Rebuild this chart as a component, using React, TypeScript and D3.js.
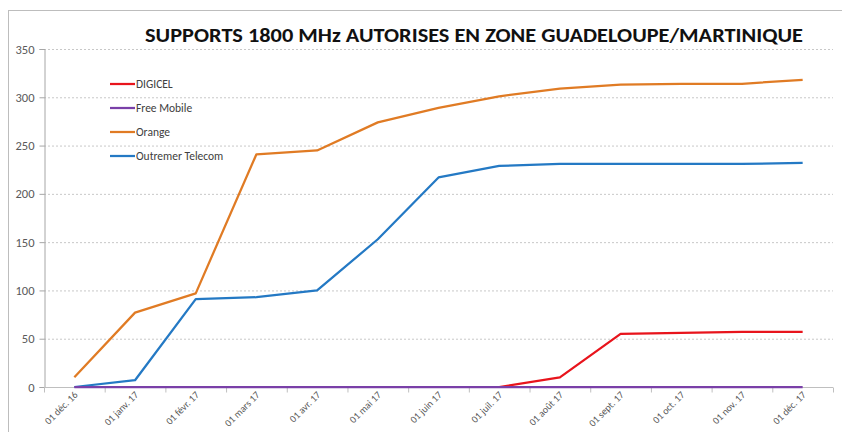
import { useEffect, useRef } from 'react';
import * as d3 from 'd3';

const months = [
  '01 déc. 16', '01 janv. 17', '01 févr. 17', '01 mars 17', '01 avr. 17', '01 mai 17',
  '01 juin 17', '01 juil. 17', '01 août 17', '01 sept. 17', '01 oct. 17', '01 nov. 17', '01 déc. 17',
];

const digicel = [null, null, null, null, null, null, null, 0, 10, 55, 56, 57, 57];
const freeMobile = [0, 0, 0, 0, 0, 0, 0, 0, 0, 0, 0, 0, 0];
const orange = [10, 77, 97, 241, 245, 274, 289, 301, 309, 313, 314, 314, 318];
const outremer = [0, 7, 91, 93, 100, 153, 217, 229, 231, 231, 231, 231, 232];

const yTicks = [0, 50, 100, 150, 200, 250, 300, 350];

const series = [
  { name: 'DIGICEL', values: digicel, color: '#e8141c' },
  { name: 'Free Mobile', values: freeMobile, color: '#7a40a8' },
  { name: 'Orange', values: orange, color: '#e07b24' },
  { name: 'Outremer Telecom', values: outremer, color: '#2479c4' },
];

export default function App() {
  const svgRef = useRef<SVGSVGElement>(null);

  useEffect(() => {
    if (!svgRef.current) return;
    const svg = d3.select(svgRef.current);
    svg.selectAll('*').remove();

    const width = 842;
    const height = 432;
    const margin = { top: 49, right: 9, bottom: 45, left: 44 };
    const font = 'Calibri, Carlito, Lato, sans-serif';

    // frame
    svg
      .append('rect')
      .attr('x', 8.5)
      .attr('y', 10.5)
      .attr('width', 900)
      .attr('height', 500)
      .attr('fill', 'white')
      .attr('stroke', '#bdbdbd');

    const x = d3
      .scaleBand()
      .domain(months)
      .range([margin.left, width - margin.right])
      .padding(0);

    const y = d3
      .scaleLinear()
      .domain([0, 350])
      .range([height - margin.bottom, margin.top]);

    // gridlines
    svg
      .append('g')
      .selectAll('line')
      .data(yTicks.filter((d) => d > 0))
      .enter()
      .append('line')
      .attr('x1', margin.left)
      .attr('x2', width - margin.right)
      .attr('y1', (d) => y(d) + 0.5)
      .attr('y2', (d) => y(d) + 0.5)
      .attr('stroke', '#c8c8c8')
      .attr('stroke-dasharray', '2,2');

    // y axis
    const yAxis = svg
      .append('g')
      .attr('transform', `translate(${margin.left + 0.5},0)`)
      .call(d3.axisLeft(y).tickValues(yTicks).tickSize(5).tickPadding(5));
    yAxis.select('.domain').attr('stroke', '#a6a6a6');
    yAxis.selectAll('line').attr('stroke', '#a6a6a6');
    yAxis
      .selectAll('text')
      .style('fill', '#595959')
      .style('font-family', font)
      .style('font-size', '12.5px');

    // x axis (ticks between categories)
    const x0 = height - margin.bottom + 0.5;
    const xg = svg.append('g');
    xg.append('line')
      .attr('x1', margin.left)
      .attr('x2', width - margin.right)
      .attr('y1', x0)
      .attr('y2', x0)
      .attr('stroke', '#bfbfbf');
    xg.selectAll('line.tick')
      .data(months.concat(['end']))
      .enter()
      .append('line')
      .attr('class', 'tick')
      .attr('x1', (d, i) => margin.left + i * x.step() + 0.5)
      .attr('x2', (d, i) => margin.left + i * x.step() + 0.5)
      .attr('y1', x0)
      .attr('y2', x0 + 5)
      .attr('stroke', '#bfbfbf');
    xg.selectAll('text')
      .data(months)
      .enter()
      .append('text')
      .attr(
        'transform',
        (d) => `translate(${(x(d) || 0) + x.bandwidth() / 2 + 4},${x0 + 8}) rotate(-45)`
      )
      .attr('text-anchor', 'end')
      .style('fill', '#595959')
      .style('font-family', font)
      .style('font-size', '10px')
      .text((d) => d);

    // lines
    const line = d3
      .line<number | null>()
      .defined((d) => d !== null)
      .x((d, i) => (x(months[i]) || 0) + x.bandwidth() / 2)
      .y((d) => y(d as number));

    const order = [series[3], series[2], series[0], series[1]];
    order.forEach((s) => {
      svg
        .append('path')
        .datum(s.values)
        .attr('fill', 'none')
        .attr('stroke', s.color)
        .attr('stroke-width', 2.25)
        .attr('stroke-linejoin', 'round')
        .attr('d', line);
    });

    // title
    svg
      .append('text')
      .attr('x', 474)
      .attr('y', 42)
      .attr('text-anchor', 'middle')
      .attr('textLength', 658)
      .attr('lengthAdjust', 'spacingAndGlyphs')
      .style('font-family', font)
      .style('font-weight', 'bold')
      .style('font-size', '21px')
      .style('fill', '#111')
      .text('SUPPORTS 1800 MHz AUTORISES EN ZONE GUADELOUPE/MARTINIQUE');

    // legend
    const legend = svg.append('g');
    series.forEach((s, i) => {
      const ly = 84 + i * 24;
      legend
        .append('line')
        .attr('x1', 110)
        .attr('x2', 135)
        .attr('y1', ly)
        .attr('y2', ly)
        .attr('stroke', s.color)
        .attr('stroke-width', 2.25);
      legend
        .append('text')
        .attr('x', 136)
        .attr('y', ly + 4)
        .style('font-family', font)
        .style('font-size', '11.5px')
        .style('fill', '#404040')
        .text(s.name);
    });
  }, []);

  return (
    <svg
      ref={svgRef}
      width={842}
      height={432}
      style={{ position: 'absolute', left: 0, top: 0, background: 'white' }}
    />
  );
}
